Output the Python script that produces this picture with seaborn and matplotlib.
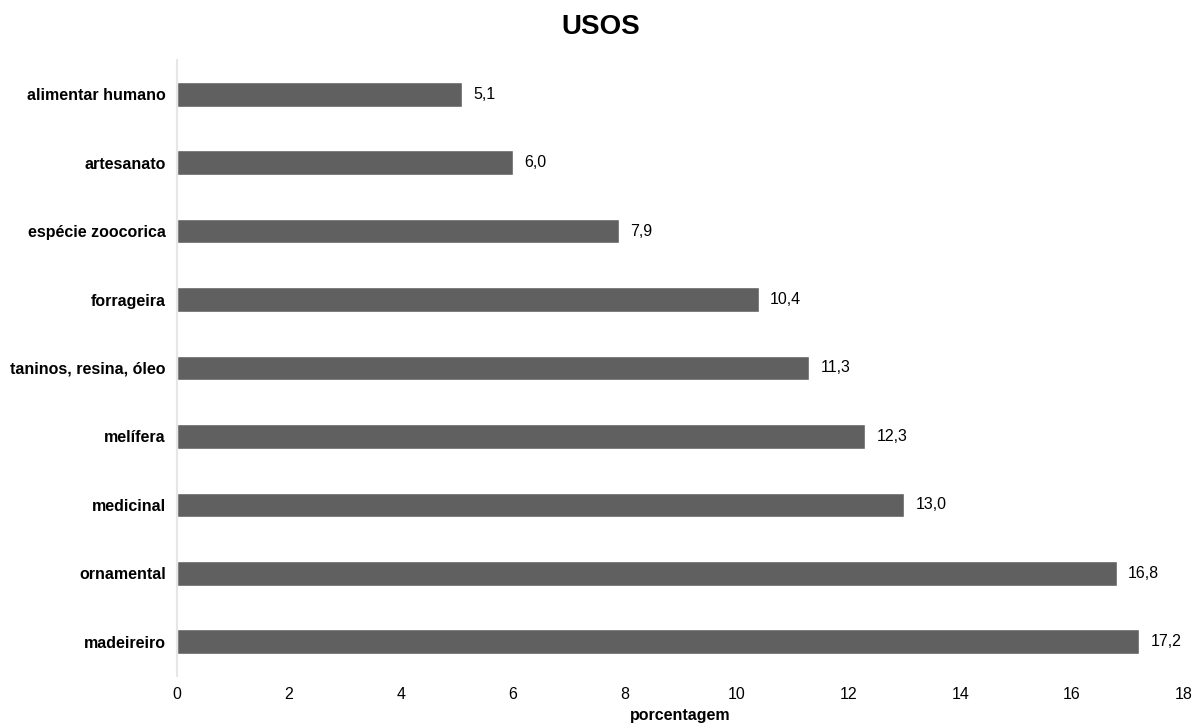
import matplotlib
matplotlib.use("Agg")
import matplotlib.pyplot as plt
import seaborn as sns
import pandas as pd

categorias = ["alimentar humano", "artesanato", "espécie zoocorica", "forrageira",
              "taninos, resina, óleo", "melífera", "medicinal", "ornamental", "madeireiro"]
valores = [5.1, 6.0, 7.9, 10.4, 11.3, 12.3, 13.0, 16.8, 17.2]
xticks = [0, 2, 4, 6, 8, 10, 12, 14, 16, 18]

sns.set_theme(style="white")
plt.rcParams["font.family"] = ["Liberation Sans", "DejaVu Sans"]
plt.rcParams["text.color"] = "black"
plt.rcParams["xtick.color"] = "black"
plt.rcParams["ytick.color"] = "black"
plt.rcParams["axes.labelcolor"] = "black"

df = pd.DataFrame({"uso": categorias, "pct": valores})

fig = plt.figure(figsize=(12.02, 7.27), dpi=100)
ax = fig.add_axes([0.1473, 0.0702, 0.8377, 0.8473])

sns.barplot(data=df, x="pct", y="uso", color="#606060", saturation=1,
            width=0.36, ax=ax, order=categorias)

for i, v in enumerate(valores):
    ax.text(v + 0.2, i, f"{v:.1f}".replace(".", ","), va="center", ha="left",
            fontsize=11.5)

ax.set_xlim(0, 18)
ax.set_xticks(xticks)
ax.set_xticklabels([str(t) for t in xticks], fontsize=11.5)
ax.set_ylim(8.5, -0.5)
ax.tick_params(axis="both", length=0, pad=8)
for lbl in ax.get_yticklabels():
    lbl.set_fontweight("bold")
    lbl.set_fontsize(11.5)
ax.set_ylabel("")
ax.set_xlabel("porcentagem", fontsize=11.5, fontweight="bold", labelpad=4)

for s in ["top", "right", "bottom"]:
    ax.spines[s].set_visible(False)
ax.spines["left"].set_color("#e6e6e6")
ax.spines["left"].set_linewidth(1.5)

fig.text(0.5, 0.963, "USOS", ha="center", va="center", fontsize=20, fontweight="bold")

fig.savefig("out.png", dpi=100)
